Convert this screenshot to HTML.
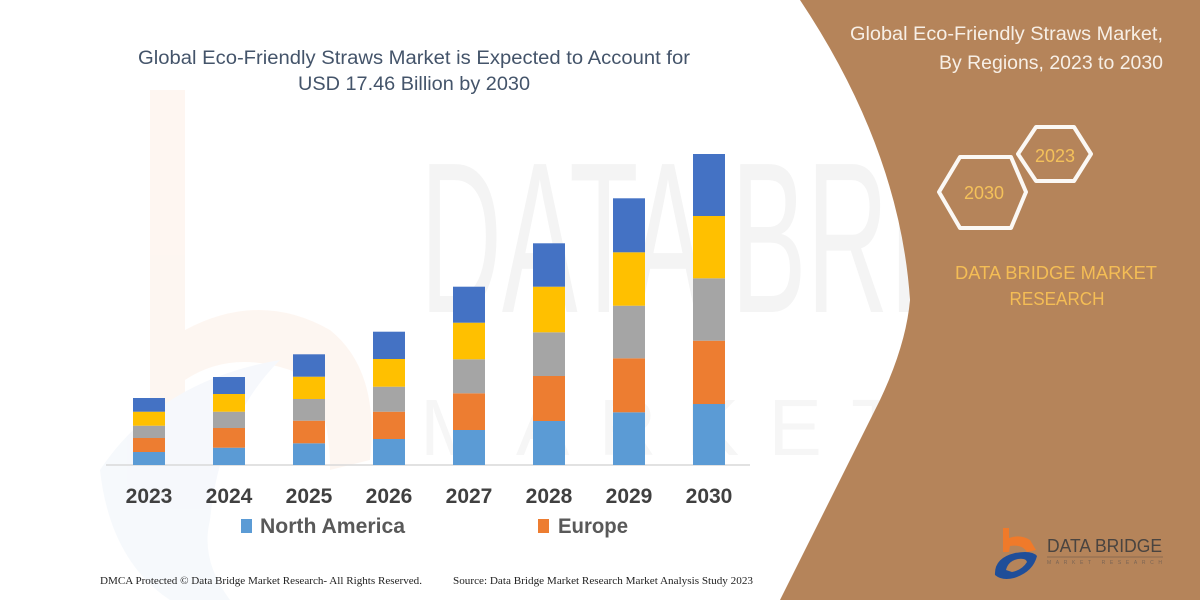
<!DOCTYPE html>
<html><head><meta charset="utf-8"><style>
html,body{margin:0;padding:0;background:#fff;}
svg{display:block;}
</style></head><body>
<svg width="1200" height="600" viewBox="0 0 1200 600" xmlns="http://www.w3.org/2000/svg">
<rect width="1200" height="600" fill="#ffffff"/>
<!-- faint watermark -->
<g opacity="0.5">
<path d="M150,90 L185,90 L185,330 Q260,290 330,330 Q380,370 370,460 L330,470 Q330,390 290,370 Q230,350 185,380 L185,470 L150,470 Z" fill="#fdeee4"/>
<path d="M100,470 Q160,380 280,360 Q220,420 210,520 Q200,560 230,600 L170,600 Q110,560 100,470 Z" fill="#eef3fa"/>
</g>
<text x="420" y="312" font-family="Liberation Sans, sans-serif" font-size="215" font-weight="normal" fill="#f4f4f4" textLength="500" lengthAdjust="spacingAndGlyphs">DATA BRI</text>
<text x="420" y="455" font-family="Liberation Sans, sans-serif" font-size="80" fill="#f6f6f6" textLength="480" lengthAdjust="spacing">MARKET</text>

<!-- brown panel -->
<path d="M800,0 Q900,150 910,300 Q906,345 880,400 L780,600 L1200,600 L1200,0 Z" fill="#b5845a"/>

<!-- title -->
<g font-family="Liberation Sans, sans-serif" fill="#44546a" font-size="19">
<text x="138" y="64" textLength="552" lengthAdjust="spacingAndGlyphs">Global Eco-Friendly Straws Market is Expected to Account for</text>
<text x="298" y="90" textLength="232" lengthAdjust="spacingAndGlyphs">USD 17.46 Billion by 2030</text>
</g>

<!-- baseline -->
<line x1="106" y1="465" x2="750" y2="465" stroke="#d9d9d9" stroke-width="1.5"/>

<!-- bars: lightblue, orange, gray, yellow, blue from bottom -->
<g>
<!-- 2023 -->
<rect x="133" y="452" width="32" height="13" fill="#5b9bd5"/>
<rect x="133" y="438" width="32" height="14" fill="#ed7d31"/>
<rect x="133" y="425.7" width="32" height="12.3" fill="#a5a5a5"/>
<rect x="133" y="411.7" width="32" height="14" fill="#ffc000"/>
<rect x="133" y="398" width="32" height="13.7" fill="#4472c4"/>
<!-- 2024 -->
<rect x="213" y="447.7" width="32" height="17.3" fill="#5b9bd5"/>
<rect x="213" y="428" width="32" height="19.7" fill="#ed7d31"/>
<rect x="213" y="411.7" width="32" height="16.3" fill="#a5a5a5"/>
<rect x="213" y="394" width="32" height="17.7" fill="#ffc000"/>
<rect x="213" y="377" width="32" height="17" fill="#4472c4"/>
<!-- 2025 -->
<rect x="293" y="443.3" width="32" height="21.7" fill="#5b9bd5"/>
<rect x="293" y="420.7" width="32" height="22.6" fill="#ed7d31"/>
<rect x="293" y="399" width="32" height="21.7" fill="#a5a5a5"/>
<rect x="293" y="376.7" width="32" height="22.3" fill="#ffc000"/>
<rect x="293" y="354.3" width="32" height="22.4" fill="#4472c4"/>
<!-- 2026 -->
<rect x="373" y="439" width="32" height="26" fill="#5b9bd5"/>
<rect x="373" y="411.7" width="32" height="27.3" fill="#ed7d31"/>
<rect x="373" y="386.7" width="32" height="25" fill="#a5a5a5"/>
<rect x="373" y="359" width="32" height="27.7" fill="#ffc000"/>
<rect x="373" y="331.7" width="32" height="27.3" fill="#4472c4"/>
<!-- 2027 -->
<rect x="453" y="430" width="32" height="35" fill="#5b9bd5"/>
<rect x="453" y="393.3" width="32" height="36.7" fill="#ed7d31"/>
<rect x="453" y="359.3" width="32" height="34" fill="#a5a5a5"/>
<rect x="453" y="322.7" width="32" height="36.6" fill="#ffc000"/>
<rect x="453" y="286.7" width="32" height="36" fill="#4472c4"/>
<!-- 2028 -->
<rect x="533" y="421" width="32" height="44" fill="#5b9bd5"/>
<rect x="533" y="376" width="32" height="45" fill="#ed7d31"/>
<rect x="533" y="332.3" width="32" height="43.7" fill="#a5a5a5"/>
<rect x="533" y="286.7" width="32" height="45.6" fill="#ffc000"/>
<rect x="533" y="243.3" width="32" height="43.4" fill="#4472c4"/>
<!-- 2029 -->
<rect x="613" y="412.3" width="32" height="52.7" fill="#5b9bd5"/>
<rect x="613" y="358.3" width="32" height="54" fill="#ed7d31"/>
<rect x="613" y="305.7" width="32" height="52.6" fill="#a5a5a5"/>
<rect x="613" y="252.3" width="32" height="53.4" fill="#ffc000"/>
<rect x="613" y="198.3" width="32" height="54" fill="#4472c4"/>
<!-- 2030 -->
<rect x="693" y="404" width="32" height="61" fill="#5b9bd5"/>
<rect x="693" y="340.7" width="32" height="63.3" fill="#ed7d31"/>
<rect x="693" y="278.3" width="32" height="62.4" fill="#a5a5a5"/>
<rect x="693" y="216" width="32" height="62.3" fill="#ffc000"/>
<rect x="693" y="154" width="32" height="62" fill="#4472c4"/>
</g>

<!-- year labels -->
<g font-family="Liberation Sans, sans-serif" font-weight="bold" font-size="21" fill="#404040" text-anchor="middle">
<text x="149" y="503">2023</text>
<text x="229" y="503">2024</text>
<text x="309" y="503">2025</text>
<text x="389" y="503">2026</text>
<text x="469" y="503">2027</text>
<text x="549" y="503">2028</text>
<text x="629" y="503">2029</text>
<text x="709" y="503">2030</text>
</g>

<!-- legend -->
<rect x="241" y="519" width="11" height="14" fill="#5b9bd5"/>
<text x="260" y="533" font-family="Liberation Sans, sans-serif" font-weight="bold" font-size="21" fill="#595959" textLength="145" lengthAdjust="spacingAndGlyphs">North America</text>
<rect x="538" y="519" width="11" height="14" fill="#ed7d31"/>
<text x="558" y="533" font-family="Liberation Sans, sans-serif" font-weight="bold" font-size="21" fill="#595959" textLength="70" lengthAdjust="spacingAndGlyphs">Europe</text>

<!-- footer -->
<g font-family="Liberation Serif, serif" font-size="11" fill="#222">
<text x="100" y="584" textLength="322" lengthAdjust="spacingAndGlyphs">DMCA Protected © Data Bridge Market Research-  All Rights Reserved.</text>
<text x="453" y="584" textLength="300" lengthAdjust="spacingAndGlyphs">Source: Data Bridge Market Research  Market Analysis Study 2023</text>
</g>

<!-- right panel text -->
<g font-family="Liberation Sans, sans-serif" font-size="19" fill="#f7efe6" text-anchor="end">
<text x="1163" y="40" textLength="313" lengthAdjust="spacingAndGlyphs">Global Eco-Friendly Straws Market,</text>
<text x="1163" y="69" textLength="224" lengthAdjust="spacingAndGlyphs">By Regions, 2023 to 2030</text>
</g>

<!-- hexagons -->
<g fill="none" stroke="#fbf8f4" stroke-width="4" stroke-linejoin="round">
<polygon points="939,192 960,157 1011,157 1026,192 1011,228 960,228"/>
<polygon points="1018,154 1036,127 1074,127 1091,154 1074,181 1036,181"/>
</g>
<g font-family="Liberation Sans, sans-serif" font-size="18" fill="#f4c15a" text-anchor="middle">
<text x="984" y="199">2030</text>
<text x="1055" y="162">2023</text>
</g>

<g font-family="Liberation Sans, sans-serif" font-size="18" fill="#f4bd55" text-anchor="middle">
<text x="1056" y="279" textLength="202" lengthAdjust="spacingAndGlyphs">DATA BRIDGE MARKET</text>
<text x="1057" y="305" textLength="95" lengthAdjust="spacingAndGlyphs">RESEARCH</text>
</g>

<!-- logo -->
<path d="M1003,528 L1009,528 L1009,538 Q1020,534 1030,540 L1036,550 L1027,552 Q1022,544 1010,546 L1009,552 L1003,552 Z" fill="#f07a2a"/>
<path d="M995,575 Q994,558 1015,553 Q1032,550 1037,556 Q1033,572 1014,578 Q1002,581 995,575 Z" fill="#1f4e99"/>
<path d="M1006,570 Q1008,561 1018,559 Q1026,558 1027,562 Q1022,570 1012,572 Z" fill="#b5845a"/>
<text x="1047" y="552" font-family="Liberation Sans, sans-serif" font-size="18" fill="#4a4440" textLength="115" lengthAdjust="spacingAndGlyphs">DATA BRIDGE</text>
<line x1="1047" y1="557" x2="1163" y2="557" stroke="#8a6a50" stroke-width="1"/>
<text x="1047" y="564" font-family="Liberation Sans, sans-serif" font-size="5" fill="#7a6555" textLength="115" lengthAdjust="spacing">MARKET RESEARCH</text>
</svg>
</body></html>
